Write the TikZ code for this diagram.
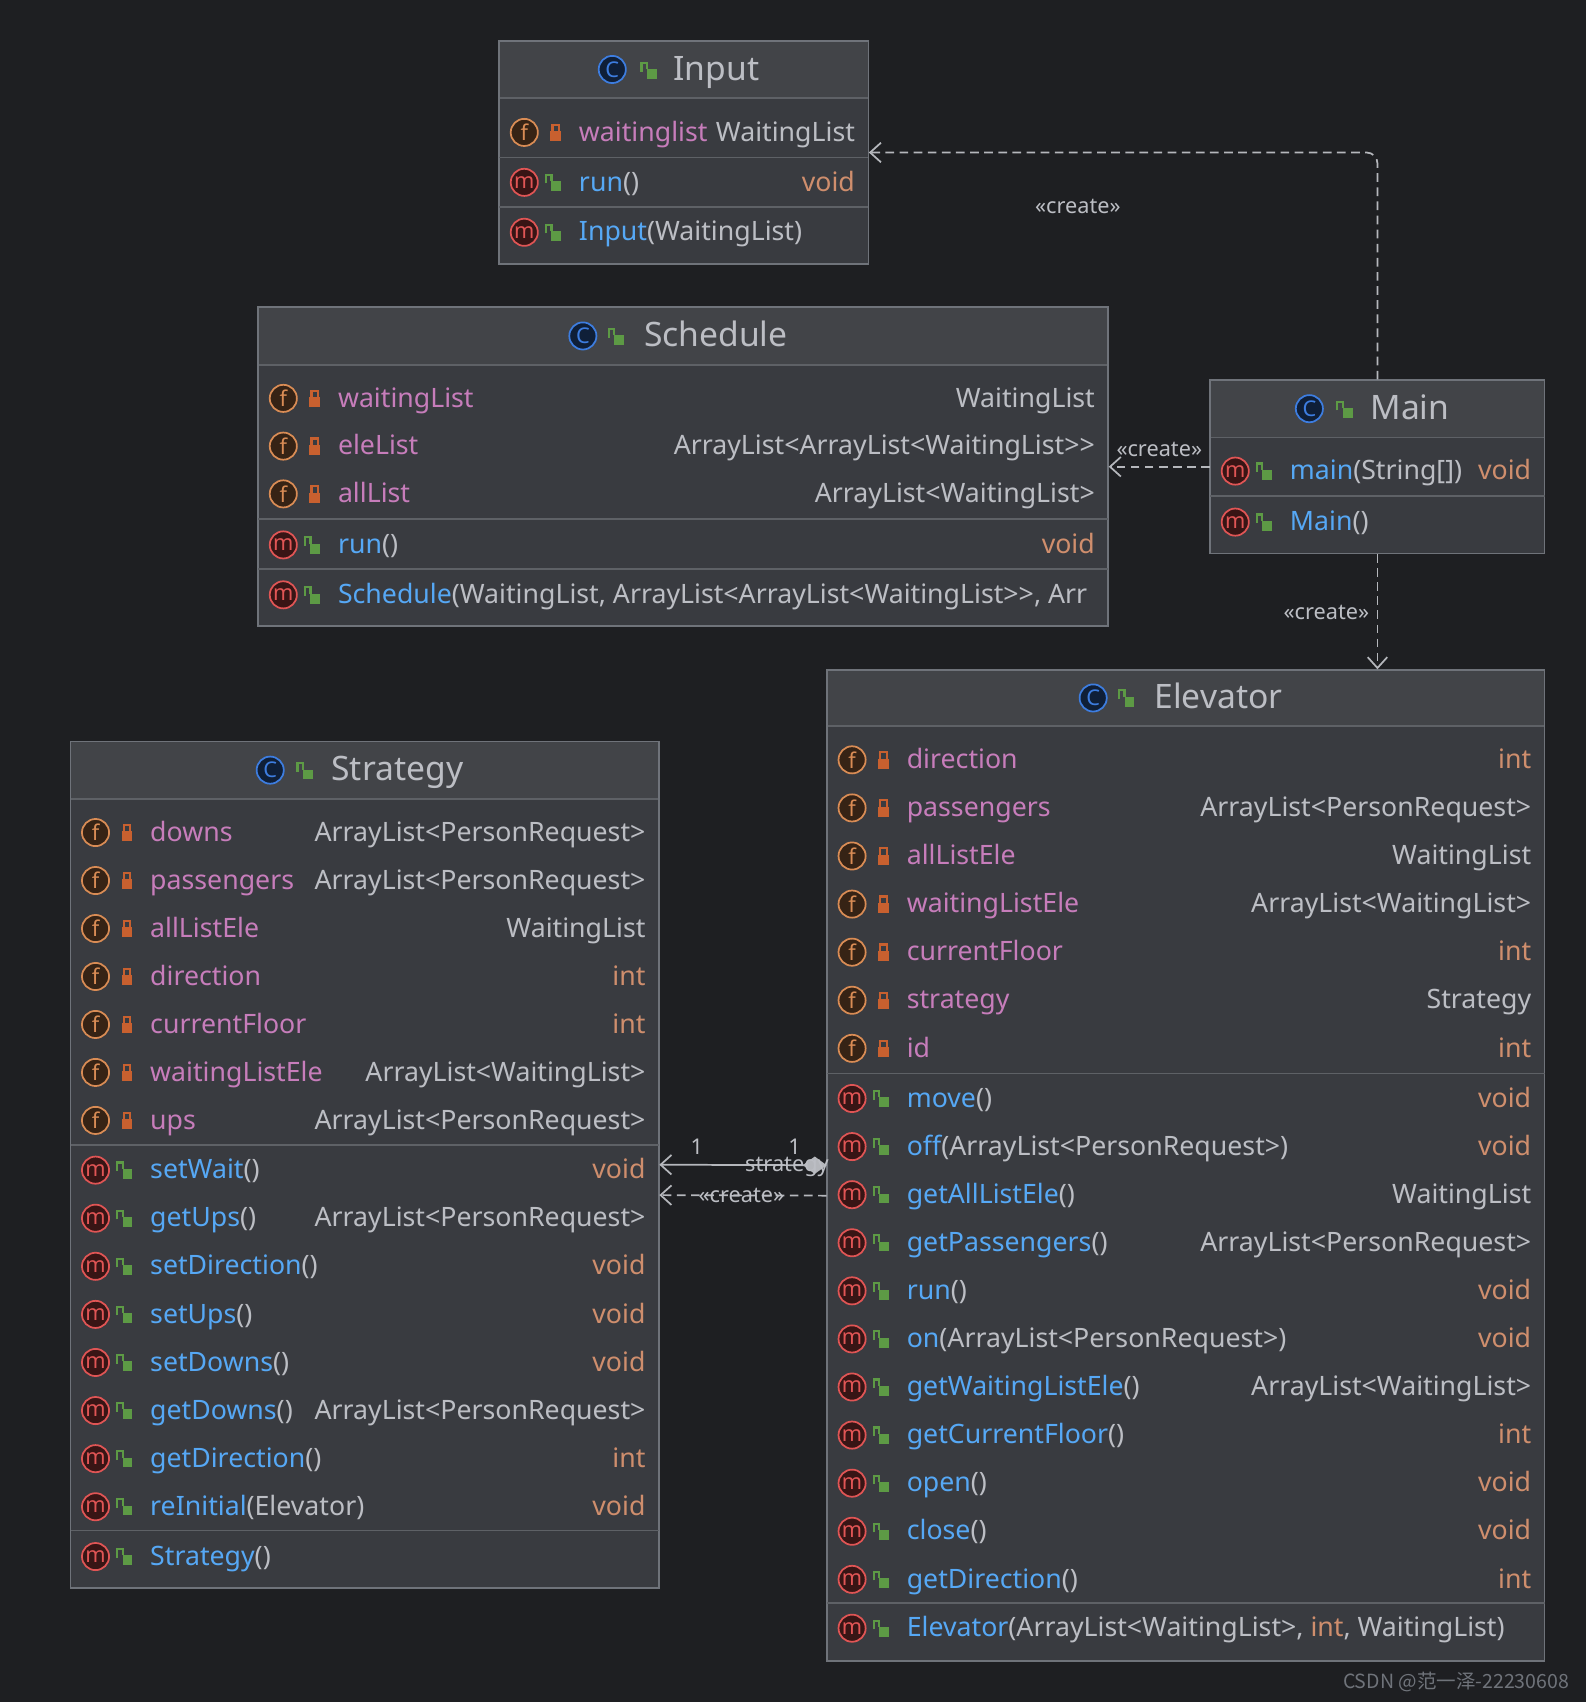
\documentclass[tikz,border=0pt]{standalone}
\usepackage{fontspec}
\setmainfont{Noto Sans}
\newfontfamily\cjk{Noto Sans CJK SC}
\usetikzlibrary{fit}
\usetikzlibrary{arrows.meta}

\definecolor{bg}{HTML}{1E1F22}
\definecolor{boxbg}{HTML}{393B40}
\definecolor{headbg}{HTML}{424448}
\definecolor{frame}{HTML}{6F737A}
\definecolor{sepcol}{HTML}{5E6166}
\definecolor{fname}{HTML}{C77DBB}
\definecolor{mname}{HTML}{56A8F5}
\definecolor{tcol}{HTML}{BCBEC4}
\definecolor{primcol}{HTML}{CF8E6D}
\definecolor{fcol}{HTML}{D98C55}
\definecolor{mcol}{HTML}{E05555}
\definecolor{ccol}{HTML}{3D7DE0}
\definecolor{lockred}{HTML}{C8602F}
\definecolor{lockgreen}{HTML}{5D9A45}
\definecolor{linecol}{HTML}{B5B7BC}

\newcommand\prim[1]{\textcolor{primcol}{#1}}

% lock icons
\newcommand\privlock[2]{%
  \fill[lockred] (#1-5,#2-1) rectangle (#1+5,#2+8);
  \draw[lockred,line width=1pt] (#1-3,#2-1) -- (#1-3,#2-7) -- (#1+3,#2-7) -- (#1+3,#2-1);}
\newcommand\publock{\privlockgreen}
\newcommand\privlockgreen[2]{%
  \fill[lockgreen] (#1-2,#2-1) rectangle (#1+7,#2+8);
  \draw[lockgreen,line width=1pt] (#1-7,#2+1) -- (#1-7,#2-7) -- (#1-2,#2-7) -- (#1-2,#2-1);}

% class box: name, x1, y1, x2, y2, header bottom, title
\newcommand\classbox[7]{%
  \fill[boxbg] (#2,#3) rectangle (#4,#5);
  \fill[headbg] (#2,#3) rectangle (#4,#6);
  \draw[sepcol,line width=0.8pt] (#2,#6) -- (#4,#6);
  \draw[frame,line width=0.8pt] (#2,#3) rectangle (#4,#5);
  \path (#2,#3) coordinate (#1-nw) (#4,#5) coordinate (#1-se);
  \node[fit=(#1-nw)(#1-se),inner sep=0] (#1) {};
  \node[titletxt] (#1-title) at ({(#2+#4)/2+30},{(#3+#6)/2+10}) {#7};
  \node[icon=ccol] at ([xshift=-28pt,yshift=5pt]#1-title.base west) {C};}
\newcommand\sepline[3]{\draw[sepcol,line width=0.8pt] (#1,#3) -- (#2,#3);}

% rows: x1, x2, y, name, type
\newcommand\fieldrow[5]{%
  \node[icon=fcol] at (#1+23,#3) {f};
  \privlock{#1+52}{#3}
  \node[txt,text=fname] at (#1+73,#3+8) {#4};
  \node[txt,anchor=base east] at (#2-12,#3+8) {#5};}
\newcommand\methrow[6]{%
  \node[icon=mcol] at (#1+23,#3) {m};
  \publock{#1+50}{#3}
  \node[txt] at (#1+73,#3+8) {\textcolor{mname}{#4}#5};
  \node[txt,anchor=base east] at (#2-12,#3+8) {#6};}

\tikzset{
  txt/.style={anchor=base west,inner sep=0,text=tcol,font=\fontsize{12.3}{14}\selectfont},
  titletxt/.style={anchor=base,inner sep=0,text=tcol,font=\fontsize{15.5}{18}\selectfont},
  icon/.style={circle,draw=#1,line width=0.8pt,fill=#1!25!black,text=#1,inner sep=0,
    minimum size=12.5pt,font=\fontsize{10}{10}\selectfont},
  dep/.style={linecol,line width=0.8pt,dash pattern=on 4pt off 2.5pt,-{Straight Barb[length=5pt,width=9pt]}},
  lbl/.style={text=tcol,inner sep=1pt,font=\fontsize{10}{12}\selectfont}
}

\begin{document}
\begin{tikzpicture}[x=0.5pt,y=-0.5pt]
  \fill[bg] (0,0) rectangle (1461,1568);

  % Input
  \classbox{input}{460}{38}{800}{243}{90}{Input}
  \publock{598}{65}
  \fieldrow{460}{800}{122}{waitinglist}{WaitingList}
  \sepline{460}{800}{145}
  \methrow{460}{800}{168}{run}{()}{\prim{void}}
  \sepline{460}{800}{191}
  \methrow{460}{800}{214}{Input}{(WaitingList)}{}

  % Schedule
  \classbox{schedule}{238}{283}{1021}{577}{336}{Schedule}
  \publock{568}{310}
  \fieldrow{238}{1021}{367}{waitingList}{WaitingList}
  \fieldrow{238}{1021}{411}{eleList}{ArrayList<ArrayList<WaitingList>{}>}
  \fieldrow{238}{1021}{455}{allList}{ArrayList<WaitingList>}
  \sepline{238}{1021}{478}
  \methrow{238}{1021}{502}{run}{()}{\prim{void}}
  \sepline{238}{1021}{524}
  \methrow{238}{1021}{548}{Schedule}{(WaitingList, ArrayList<ArrayList<WaitingList>{}>, Arr}{}

  % Main
  \classbox{main}{1115}{350}{1423}{510}{403}{Main}
  \publock{1239}{377}
  \methrow{1115}{1423}{434}{main}{(String[])}{\prim{void}}
  \sepline{1115}{1423}{457}
  \methrow{1115}{1423}{481}{Main}{()}{}

  % Elevator
  \classbox{elevator}{762}{617}{1423}{1530}{669}{Elevator}
  \publock{1038}{643}
  \foreach \n/\t [count=\i from 0] in {direction/\prim{int}, passengers/ArrayList<PersonRequest>,
      allListEle/WaitingList, waitingListEle/ArrayList<WaitingList>, currentFloor/\prim{int},
      strategy/Strategy, id/\prim{int}}
    {\fieldrow{762}{1423}{700+44.3*\i}{\n}{\t}}
  \sepline{762}{1423}{989}
  \foreach \n/\a/\t [count=\i from 0] in {move/()/\prim{void}, off/(ArrayList<PersonRequest>)/\prim{void},
      getAllListEle/()/WaitingList, getPassengers/()/ArrayList<PersonRequest>, run/()/\prim{void},
      on/(ArrayList<PersonRequest>)/\prim{void}, getWaitingListEle/()/ArrayList<WaitingList>,
      getCurrentFloor/()/\prim{int}, open/()/\prim{void}, close/()/\prim{void}, getDirection/()/\prim{int}}
    {\methrow{762}{1423}{1012+44.3*\i}{\n}{\a}{\t}}
  \sepline{762}{1423}{1477}
  \methrow{762}{1423}{1500}{Elevator}{(ArrayList<WaitingList>, \prim{int}, WaitingList)}{}

  % Strategy
  \classbox{strategy}{65}{683}{607}{1463}{736}{Strategy}
  \publock{281}{710}
  \foreach \n/\t [count=\i from 0] in {downs/ArrayList<PersonRequest>, passengers/ArrayList<PersonRequest>,
      allListEle/WaitingList, direction/\prim{int}, currentFloor/\prim{int},
      waitingListEle/ArrayList<WaitingList>, ups/ArrayList<PersonRequest>}
    {\fieldrow{65}{607}{767+44.2*\i}{\n}{\t}}
  \sepline{65}{607}{1055}
  \foreach \n/\a/\t [count=\i from 0] in {setWait/()/\prim{void}, getUps/()/ArrayList<PersonRequest>,
      setDirection/()/\prim{void}, setUps/()/\prim{void}, setDowns/()/\prim{void},
      getDowns/()/ArrayList<PersonRequest>, getDirection/()/\prim{int}, reInitial/(Elevator)/\prim{void}}
    {\methrow{65}{607}{1078+44.3*\i}{\n}{\a}{\t}}
  \sepline{65}{607}{1410}
  \methrow{65}{607}{1434}{Strategy}{()}{}

  % connectors
  \draw[dep,rounded corners=5pt] (main.north) |- (input.east);
  \node[lbl] at (993,190) {«create»};
  \draw[dep] (main.west) -- (schedule.east);
  \node[lbl] at (1068,414) {«create»};
  \draw[dep] (main.south) -- (main.south |- elevator.north);
  \node[lbl] at (1222,564) {«create»};

  \draw[linecol,line width=0.8pt,{Straight Barb[length=5pt,width=9pt]}-{Diamond[length=11pt,width=8pt]}]
    (strategy.east) -- (elevator.west);
  \node[lbl] at (642,1056) {1};
  \node[lbl] at (732,1056) {1};
  \node[lbl] at (725,1075) {strategy};
  \draw[dep] ([yshift=-14pt]elevator.west) -- ([yshift=-14pt]strategy.east);
  \node[lbl] at (683,1101) {«create»};

  \node[anchor=east,text=frame,inner sep=0,font=\cjk\fontsize{9}{11}\selectfont] at (1446,1550) {CSDN @范一泽-22230608};
\end{tikzpicture}
\end{document}
